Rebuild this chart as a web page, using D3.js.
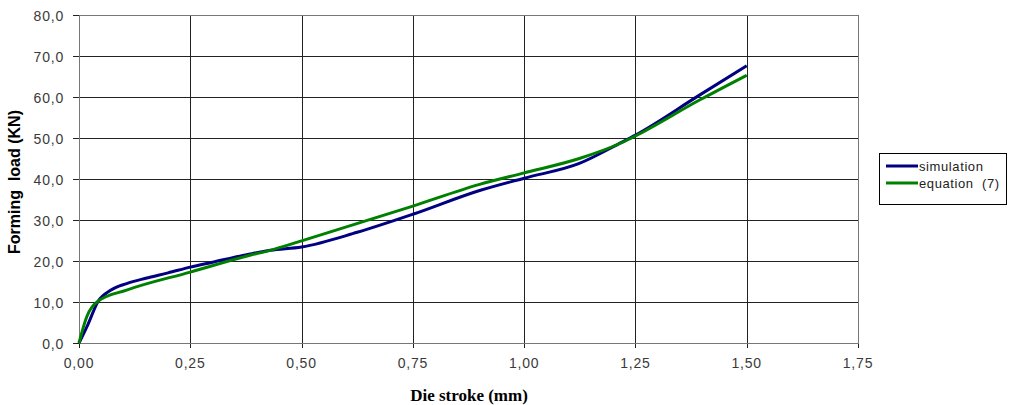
<!DOCTYPE html>
<html>
<head>
<meta charset="utf-8">
<script src="https://cdn.jsdelivr.net/npm/d3@7"></script>
<style>
  body { margin: 0; background: #fff; }
  svg { display: block; }
</style>
</head>
<body>
<script>
// values
var simStroke = [0, 0.02, 0.043, 0.07, 0.107, 0.15, 0.2, 0.25, 0.3, 0.384, 0.43, 0.5, 0.625, 0.75, 0.9, 1.0, 1.124, 1.22, 1.25, 1.393, 1.5];
var simLoad   = [0, 4.5, 10.2, 12.8, 14.5, 15.8, 17.1, 18.5, 19.7, 21.7, 22.6, 23.4, 27.0, 31.4, 37.2, 40.2, 43.8, 49.0, 50.7, 60.4, 67.6];

var eqStroke = [0, 0.017, 0.043, 0.107, 0.25, 0.384, 0.43, 0.5, 0.75, 0.9, 1.0, 1.124, 1.22, 1.25, 1.393, 1.5];
var eqLoad   = [0, 6.3, 10.2, 12.9, 17.3, 21.4, 22.6, 24.9, 33.4, 38.7, 41.5, 45.0, 48.9, 50.5, 59.2, 65.3];

var xTicks = [0, 0.25, 0.5, 0.75, 1.0, 1.25, 1.5, 1.75];
var yTicks = [0, 10, 20, 30, 40, 50, 60, 70, 80];

var seriesNames = ["simulation", "equation  (7)"];
var seriesColors = ["#000080", "#008000"];

function run_d3 () {
    var width = 1009, height = 405;
    var svg = d3.select("body").append("svg")
        .attr("width", width)
        .attr("height", height);

    var x = d3.scaleLinear().domain([0, 1.75]).range([79, 858]);
    var y = d3.scaleLinear().domain([0, 80]).range([343, 15]);

    var fmt = function (d, n) { return d.toFixed(n).replace(".", ","); };

    // grid
    var g = svg.append("g");
    g.selectAll("line.hg")
        .data(yTicks)
        .enter().append("line")
        .attr("x1", 73).attr("x2", 858)
        .attr("y1", function (d) { return Math.round(y(d)) + 0.5; })
        .attr("y2", function (d) { return Math.round(y(d)) + 0.5; })
        .attr("stroke", "#222");
    g.selectAll("line.vg")
        .data(xTicks)
        .enter().append("line")
        .attr("y1", 15).attr("y2", 348)
        .attr("x1", function (d) { return Math.round(x(d)) + 0.5; })
        .attr("x2", function (d) { return Math.round(x(d)) + 0.5; })
        .attr("stroke", "#222");

    // plot border
    svg.append("rect")
        .attr("x", 79.5).attr("y", 15.5)
        .attr("width", 779).attr("height", 328)
        .attr("fill", "none")
        .attr("stroke", "#777");

    // tick labels
    svg.selectAll("text.yt")
        .data(yTicks)
        .enter().append("text")
        .attr("x", 64)
        .attr("y", function (d) { return y(d) + 5.5; })
        .attr("text-anchor", "end")
        .attr("font-family", "Liberation Sans, Arial, sans-serif")
        .attr("font-size", 14)
        .attr("letter-spacing", 0.8)
        .attr("fill", "#3a3a3a")
        .text(function (d) { return fmt(d, 1); });

    svg.selectAll("text.xt")
        .data(xTicks)
        .enter().append("text")
        .attr("x", function (d) { return x(d); })
        .attr("y", 368)
        .attr("text-anchor", "middle")
        .attr("font-family", "Liberation Sans, Arial, sans-serif")
        .attr("font-size", 14)
        .attr("letter-spacing", 0.8)
        .attr("fill", "#3a3a3a")
        .text(function (d) { return fmt(d, 2); });

    // axis titles
    svg.append("text")
        .attr("transform", "translate(20,182) rotate(-90)")
        .attr("text-anchor", "middle")
        .attr("font-family", "Liberation Sans, Arial, sans-serif")
        .attr("font-weight", "bold")
        .attr("font-size", 16)
        .attr("xml:space", "preserve")
        .text("Forming  load (KN)");

    svg.append("text")
        .attr("x", 469).attr("y", 401)
        .attr("text-anchor", "middle")
        .attr("font-family", "Liberation Serif, Times New Roman, serif")
        .attr("font-weight", "bold")
        .attr("font-size", 17)
        .text("Die stroke (mm)");

    // lines
    var line = d3.line()
        .x(function (d) { return x(d[0]); })
        .y(function (d) { return y(d[1]); })
        .curve(d3.curveMonotoneX);

    var series = [d3.zip(simStroke, simLoad), d3.zip(eqStroke, eqLoad)];

    svg.append("g").selectAll("path")
        .data(series)
        .enter().append("path")
        .attr("d", line)
        .attr("fill", "none")
        .attr("stroke", function (d, i) { return seriesColors[i]; })
        .attr("stroke-width", 3)
        .attr("stroke-linejoin", "round");

    // legend
    var leg = svg.append("g");
    leg.append("rect")
        .attr("x", 879.5).attr("y", 153.5)
        .attr("width", 127).attr("height", 51)
        .attr("fill", "#fff")
        .attr("stroke", "#000");
    seriesNames.forEach(function (name, i) {
        var ly = 166 + i * 17;
        leg.append("line")
            .attr("x1", 886).attr("x2", 918)
            .attr("y1", ly).attr("y2", ly)
            .attr("stroke", seriesColors[i])
            .attr("stroke-width", 3);
        leg.append("text")
            .attr("x", 919).attr("y", ly + 4.5)
            .attr("font-family", "Liberation Sans, Arial, sans-serif")
            .attr("font-size", 13)
            .attr("letter-spacing", 0.6)
            .attr("fill", "#222")
            .attr("xml:space", "preserve")
            .text(name);
    });
}

window.onload = run_d3;
</script>
</body>
</html>
